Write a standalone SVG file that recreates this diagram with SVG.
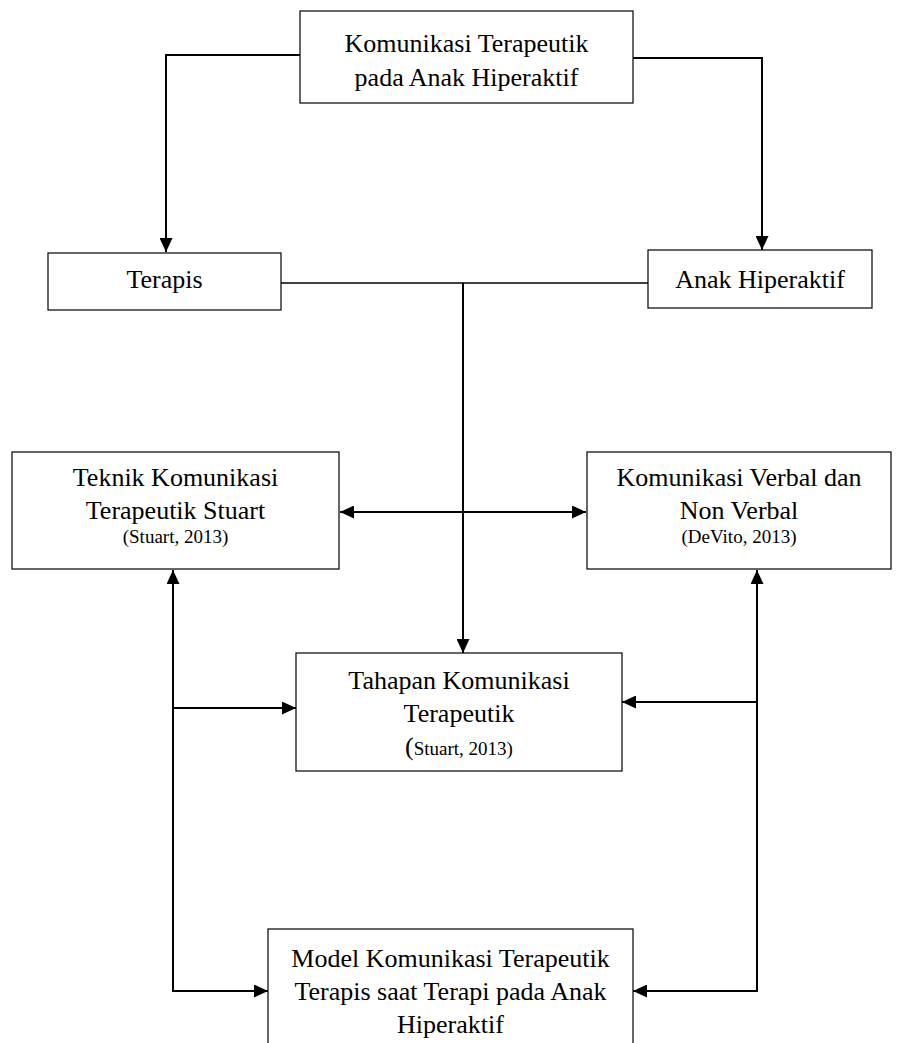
<svg xmlns="http://www.w3.org/2000/svg" width="904" height="1043" viewBox="0 0 904 1043">
<style>
.box{fill:#fff;stroke:#000;stroke-width:1.2}
.t{font-family:"Liberation Serif","Times New Roman",serif;font-size:26px;fill:#000;text-anchor:middle}
.s{font-size:19px}
.c{fill:none;stroke:#000;stroke-width:2}
</style>
<defs>
<marker id="ah" markerWidth="14" markerHeight="13" refX="14" refY="6.5" orient="auto" markerUnits="userSpaceOnUse">
<path d="M0,0 L14,6.5 L0,13 Z" fill="#000"/>
</marker>
<marker id="as" markerWidth="14" markerHeight="13" refX="0" refY="6.5" orient="auto" markerUnits="userSpaceOnUse">
<path d="M14,0 L0,6.5 L14,13 Z" fill="#000"/>
</marker>
</defs>
<rect width="904" height="1043" fill="#fff"/>
<g id="connectors">
<polyline class="c" points="300,55 166,55 166,252" marker-end="url(#ah)"/>
<polyline class="c" points="633,58 762,58 762,250" marker-end="url(#ah)"/>
<line x1="281" y1="283" x2="648" y2="283" stroke="#000" stroke-width="1.3"/>
<line class="c" x1="463" y1="283" x2="463" y2="653" marker-end="url(#ah)"/>
<line class="c" x1="340" y1="512" x2="586" y2="512" marker-start="url(#as)" marker-end="url(#ah)"/>
<polyline class="c" points="173,570 173,991 268,991" marker-start="url(#as)" marker-end="url(#ah)"/>
<polyline class="c" points="757,570 757,991 633,991" marker-start="url(#as)" marker-end="url(#ah)"/>
<line class="c" x1="173" y1="708" x2="296" y2="708" marker-end="url(#ah)"/>
<line class="c" x1="758" y1="702" x2="622" y2="702" marker-end="url(#ah)"/>
</g>
<g id="n-top">
<rect class="box" x="300" y="11" width="333" height="92"/>
<text class="t" x="466.5" y="52">Komunikasi Terapeutik</text>
<text class="t" x="466.5" y="86">pada Anak Hiperaktif</text>
</g>
<g id="n-terapis">
<rect class="box" x="48" y="253" width="233" height="57"/>
<text class="t" x="164.5" y="288">Terapis</text>
</g>
<g id="n-anak">
<rect class="box" x="648" y="250" width="224" height="58"/>
<text class="t" x="760" y="288">Anak Hiperaktif</text>
</g>
<g id="n-teknik">
<rect class="box" x="12" y="452" width="327" height="117"/>
<text class="t" x="175.5" y="486">Teknik Komunikasi</text>
<text class="t" x="175.5" y="519">Terapeutik Stuart</text>
<text class="t s" x="175.5" y="543">(Stuart, 2013)</text>
</g>
<g id="n-verbal">
<rect class="box" x="587" y="452" width="304" height="117"/>
<text class="t" x="739" y="486">Komunikasi Verbal dan</text>
<text class="t" x="739" y="519">Non Verbal</text>
<text class="t s" x="739" y="543">(DeVito, 2013)</text>
</g>
<g id="n-tahapan">
<rect class="box" x="296" y="653" width="326" height="118"/>
<text class="t" x="459" y="689">Tahapan Komunikasi</text>
<text class="t" x="459" y="722">Terapeutik</text>
<text class="t" x="459" y="755">(<tspan class="s">Stuart, 2013)</tspan></text>
</g>
<g id="n-model">
<rect class="box" x="268" y="929" width="365" height="120"/>
<text class="t" x="450.5" y="967">Model Komunikasi Terapeutik</text>
<text class="t" x="450.5" y="1000">Terapis saat Terapi pada Anak</text>
<text class="t" x="450.5" y="1033">Hiperaktif</text>
</g>
</svg>
